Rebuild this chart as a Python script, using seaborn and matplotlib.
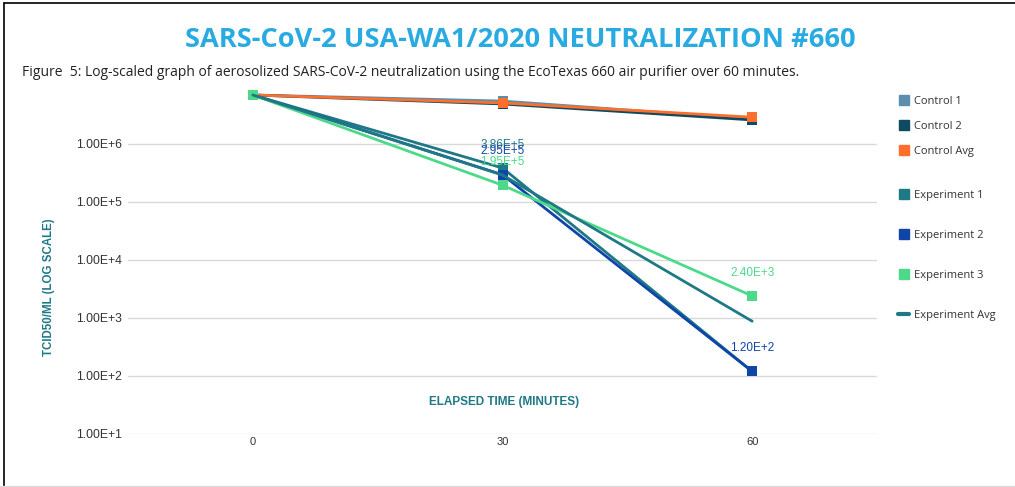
import matplotlib
matplotlib.use("Agg")
import matplotlib.pyplot as plt
from matplotlib.lines import Line2D
from matplotlib.ticker import FixedLocator, FuncFormatter
import seaborn as sns
import pandas as pd

# === Data ===
minutes = [0, 30, 60]
control_1 = [7.0e6, 5.5e6, 2.7e6]
control_2 = [7.0e6, 4.9e6, 2.6e6]
control_avg = [7.0e6, 5.1e6, 2.9e6]
experiment_1 = [7.0e6, 3.86e5, 1.20e2]
experiment_2 = [7.0e6, 2.95e5, 1.20e2]
experiment_3 = [7.0e6, 1.95e5, 2.40e3]
experiment_avg = [7.0e6, 2.92e5, 8.8e2]

series_names = ["Control 1", "Control 2", "Control Avg",
                "Experiment 1", "Experiment 2", "Experiment 3", "Experiment Avg"]
series_values = [control_1, control_2, control_avg,
                 experiment_1, experiment_2, experiment_3, experiment_avg]
colors = ["#5b8fae", "#0e4a62", "#fe6f2e", "#1f7886", "#0f45a8", "#4cda8a", "#1f7886"]
has_marker = [True, True, True, True, True, True, False]

# labelled points: (series index, x index)
labelled = [(3, 1), (4, 1), (5, 1), (5, 2), (4, 2)]

TEAL = "#1f7886"

sns.set_theme(style="white")
plt.rcParams["font.family"] = ["Liberation Sans", "DejaVu Sans"]

fig = plt.figure(figsize=(10.15, 4.87), dpi=100)
ax = fig.add_axes([128 / 1015, 1 - 434 / 487, 749 / 1015, 348 / 487])

for name, vals, col, mk in zip(series_names, series_values, colors, has_marker):
    df = pd.DataFrame({"minutes": minutes, "tcid50": vals})
    sns.lineplot(data=df, x="minutes", y="tcid50", ax=ax, color=col,
                 linewidth=2, marker="s" if mk else None, markersize=7,
                 markeredgewidth=0, label=None, legend=False)

ax.set_yscale("log")
ax.set_ylim(10, 1e7)
ax.set_xlim(-15, 75)
ax.yaxis.set_major_locator(FixedLocator([1e1, 1e2, 1e3, 1e4, 1e5, 1e6]))
ax.yaxis.set_minor_locator(FixedLocator([]))
ax.yaxis.set_major_formatter(FuncFormatter(lambda v, p: f"{v:.2E}".replace("E+0", "E+")))
ax.set_xticks(minutes)
ax.grid(axis="y", color="#d9d9d9", linewidth=1)
ax.grid(axis="x", visible=False)
ax.set_axisbelow(True)
for s in ax.spines.values():
    s.set_visible(False)
ax.tick_params(axis="both", length=0, colors="#333333")
ax.tick_params(axis="y", pad=4.5, labelsize=8.8)
ax.tick_params(axis="x", pad=2, labelsize=8)

ax.set_xlabel("")
ax.set_ylabel("TCID50/ML (LOG SCALE)", color=TEAL, fontsize=8.3, fontweight="bold")
ax.yaxis.set_label_coords(-0.0975, 0.422)
ax.text(0.502, 0.092, "ELAPSED TIME (MINUTES)", transform=ax.transAxes,
        ha="center", va="center", color=TEAL, fontsize=8.5, fontweight="bold")

# data labels (the two upper ones overlap in the original too)
for si, xi in labelled:
    xv, yv = minutes[xi], series_values[si][xi]
    ax.annotate(f"{yv:.2E}".replace("E+0", "E+"), (xv, yv),
                xytext=(0, 12.5), textcoords="offset points",
                ha="center", va="bottom", fontsize=8.5, color=colors[si])

# titles
fig.text(520 / 1015, 1 - 40 / 487, "SARS-CoV-2 USA-WA1/2020 NEUTRALIZATION #660",
         ha="center", va="center", fontsize=19.6, fontweight="bold",
         color="#29abe2", family=["Open Sans", "DejaVu Sans"])
fig.text(22 / 1015, 1 - 73 / 487,
         "Figure  5: Log-scaled graph of aerosolized SARS-CoV-2 neutralization using the EcoTexas 660 air purifier over 60 minutes.",
         ha="left", va="center", fontsize=10, color="#222222",
         family=["Open Sans", "DejaVu Sans"])

# legends
def sq(c):
    return Line2D([], [], color=c, marker="s", linestyle="none", markersize=7)

ctrl_handles = [sq(c) for c in colors[:3]]
exp_handles = [sq(c) for c in colors[3:6]] + [Line2D([], [], color=colors[6], linewidth=3)]
leg_font = {"family": ["Open Sans", "DejaVu Sans"], "size": 8}
leg1 = fig.legend(ctrl_handles, series_names[:3], loc="upper left",
                  bbox_to_anchor=(888 / 1015, 1 - 86 / 487), frameon=False,
                  labelspacing=1.25, handlelength=1.0, handletextpad=0.4, prop=leg_font)
leg2 = fig.legend(exp_handles, series_names[3:], loc="upper left",
                  bbox_to_anchor=(888 / 1015, 1 - 180 / 487), frameon=False,
                  labelspacing=2.6, handlelength=1.0, handletextpad=0.4, prop=leg_font)
for t in leg1.get_texts() + leg2.get_texts():
    t.set_color("#333333")

# page border
fig.add_artist(Line2D([4 / 1015, 4 / 1015], [0, 1 - 3 / 487], color="black", lw=1.2))
fig.add_artist(Line2D([4 / 1015, 1], [1 - 3 / 487, 1 - 3 / 487], color="black", lw=1.2))
fig.add_artist(Line2D([0, 1], [1 / 487, 1 / 487], color="#dddddd", lw=1))

fig.savefig("out.png", dpi=100)
